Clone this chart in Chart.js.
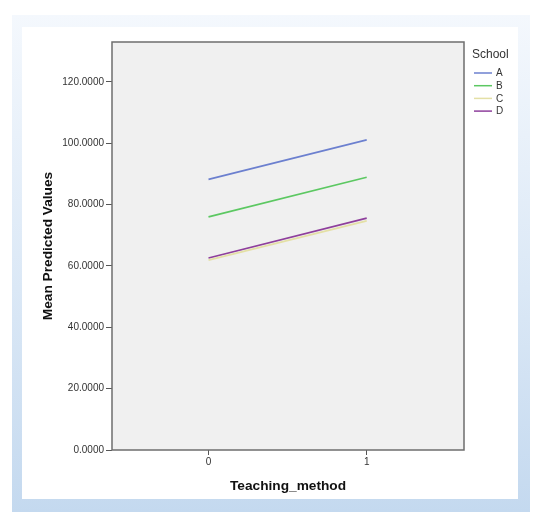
<!DOCTYPE html>
<html>
<head>
<meta charset="utf-8">
<script src="https://cdn.jsdelivr.net/npm/chart.js@4.4.1/dist/chart.umd.min.js"></script>
<style>
  body { margin: 0; background: #fff; }
  #outer { position: absolute; left: 12px; top: 15px; width: 518px; height: 497px;
    background: linear-gradient(to bottom, #f4f8fd 0%, #dbe8f6 55%, #c4d9ef 100%); }
  #inner { position: absolute; left: 22px; top: 27px; width: 496px; height: 472px; background: #fff; }
  #chart { position: absolute; left: 0; top: 0; }
</style>
</head>
<body>
<div id="outer"></div>
<div id="inner"></div>
<canvas id="chart" width="546" height="526"></canvas>
<script>
// values
const teachingMethod = [0, 1]
const schools = ['A', 'B', 'C', 'D']
const schoolA = [88.2, 101.1]
const schoolB = [76.0, 88.9]
const schoolC = [61.9, 74.7]
const schoolD = [62.6, 75.6]
const xTicks = [0, 1]
const yTicks = [0, 20, 40, 60, 80, 100, 120]

const seriesValues = [schoolA, schoolB, schoolC, schoolD]
const lineColors = ['#6c80cf', '#5cc862', '#e4e0a6', '#8e3f9c']

function toPoints (vals) {
  return teachingMethod.map(function (x, i) { return { x: x, y: vals[i] } })
}

const plotFrame = {
  id: 'plotFrame',
  beforeDraw: function (chart) {
    const a = chart.chartArea
    const ctx = chart.ctx
    ctx.save()
    ctx.fillStyle = '#f0f0f0'
    ctx.fillRect(a.left, a.top, a.right - a.left, a.bottom - a.top)
    ctx.restore()
  },
  afterDraw: function (chart) {
    const a = chart.chartArea
    const ctx = chart.ctx
    ctx.save()
    ctx.strokeStyle = '#6e6e6e'
    ctx.lineWidth = 1.5
    ctx.strokeRect(a.left, a.top, a.right - a.left, a.bottom - a.top)

    // legend box at the right, SPSS style
    ctx.fillStyle = '#333'
    ctx.font = '12px "Liberation Sans", Arial, sans-serif'
    ctx.textBaseline = 'middle'
    ctx.fillText('School', 472, 55)
    ctx.font = '10px "Liberation Sans", Arial, sans-serif'
    chart.data.datasets.forEach(function (ds, i) {
      const y = 73 + i * 12.7
      ctx.strokeStyle = ds.borderColor
      ctx.lineWidth = 1.5
      ctx.beginPath()
      ctx.moveTo(474, y)
      ctx.lineTo(492, y)
      ctx.stroke()
      ctx.fillStyle = '#333'
      ctx.fillText(ds.label, 496, y + 0.5)
    })
    ctx.restore()
  }
}

const ctx = document.getElementById('chart').getContext('2d')
new Chart(ctx, {
  type: 'line',
  data: {
    datasets: schools.map(function (s, i) {
      return {
        label: s,
        data: toPoints(seriesValues[i]),
        borderColor: lineColors[i],
        borderWidth: 1.7,
        pointRadius: 0,
        fill: false
      }
    })
  },
  options: {
    responsive: false,
    animation: false,
    layout: { padding: { left: 30, right: 82, top: 42, bottom: 32 } },
    plugins: { legend: { display: false }, tooltip: { enabled: false } },
    scales: {
      x: {
        type: 'linear',
        min: -0.61,
        max: 1.615,
        afterBuildTicks: function (s) { s.ticks = xTicks.map(function (v) { return { value: v } }) },
        afterFit: function (s) { s.height = 44 },
        grid: { drawOnChartArea: false, drawTicks: true, tickLength: 5, color: '#555' },
        border: { display: false },
        ticks: {
          padding: 1,
          color: '#333',
          font: { family: '"Liberation Sans", Arial, sans-serif', size: 10 },
          callback: function (v) { return String(v) }
        },
        title: {
          display: true,
          text: 'Teaching_method',
          color: '#111',
          padding: { top: 0, bottom: 0 },
          font: { family: '"Liberation Sans", Arial, sans-serif', size: 13.7, weight: 'bold' }
        }
      },
      y: {
        min: 0,
        max: 133,
        afterBuildTicks: function (s) { s.ticks = yTicks.map(function (v) { return { value: v } }) },
        afterFit: function (s) { s.width = 82 },
        grid: { drawOnChartArea: false, drawTicks: true, tickLength: 6, color: '#555' },
        border: { display: false },
        ticks: {
          padding: 2,
          color: '#333',
          font: { family: '"Liberation Sans", Arial, sans-serif', size: 10 },
          callback: function (v) { return v.toFixed(4) }
        },
        title: {
          display: true,
          text: 'Mean Predicted Values',
          color: '#111',
          padding: { top: 10, bottom: 0 },
          font: { family: '"Liberation Sans", Arial, sans-serif', size: 13.7, weight: 'bold' }
        }
      }
    }
  },
  plugins: [plotFrame]
})
</script>
</body>
</html>
